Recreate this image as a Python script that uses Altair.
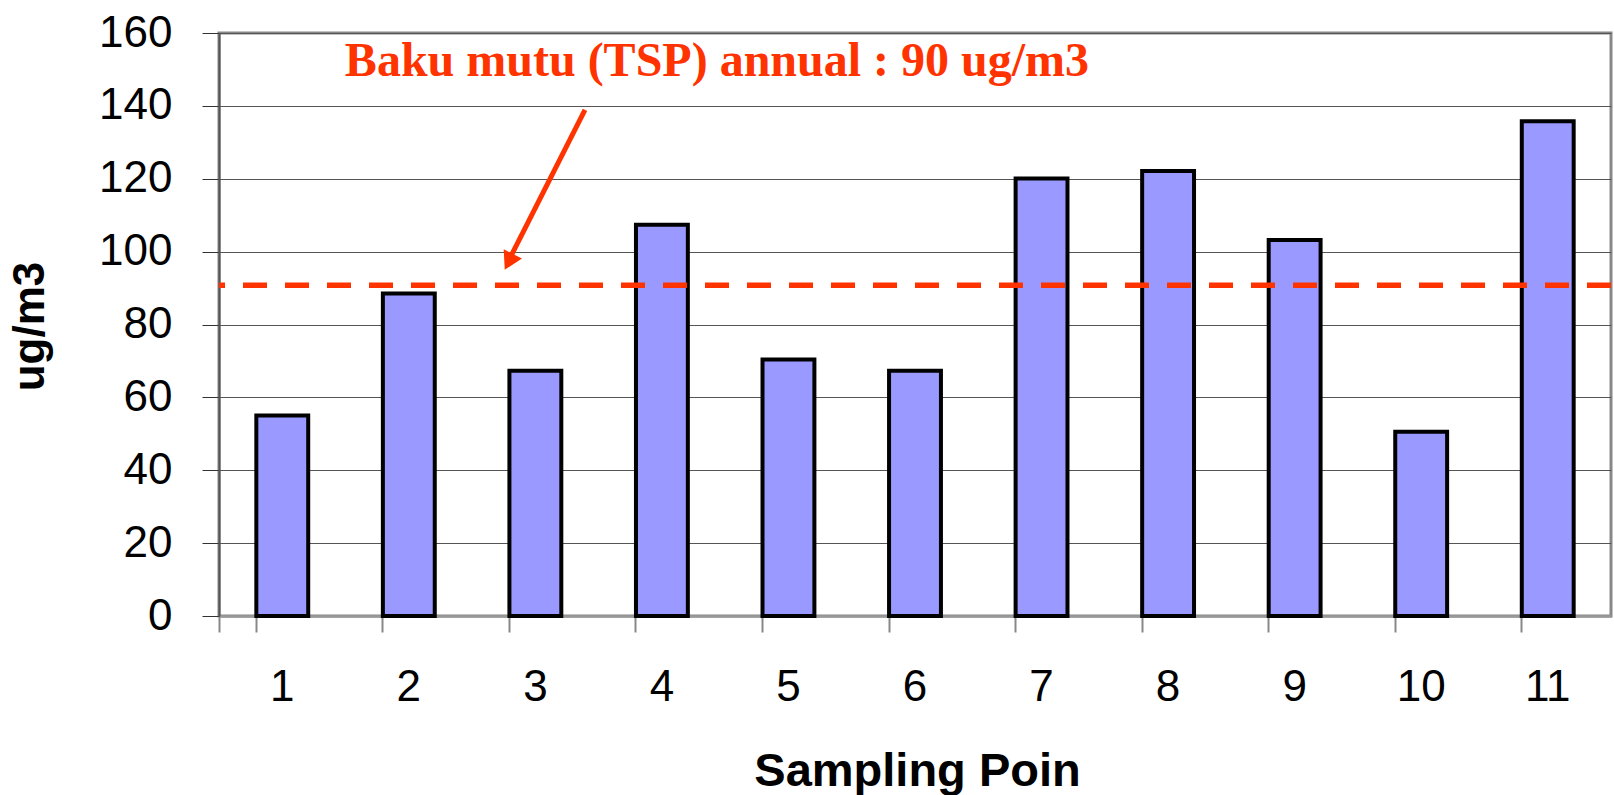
import altair as alt
import pandas as pd

# ---- data ----
points = ["1", "2", "3", "4", "5", "6", "7", "8", "9", "10", "11"]
tsp = [55.0, 88.5, 67.3, 107.4, 70.4, 67.3, 120.1, 122.1, 103.2, 50.6, 135.8]
y_ticks = [0, 20, 40, 60, 80, 100, 120, 140, 160]
standard_value = [90.8]

# annotation (in data units: x = sampling-point position 0..11, y = ug/m3)
label_text = ["Baku mutu (TSP) annual : 90 ug/m3"]
label_x = [3.935]
label_y = [148.2]
arrow_x = [2.892, 2.296]
arrow_y = [138.9, 98.0]
head_x = [2.29]
head_y = [97.2]

RED = "#FF3300"
FONT = "Liberation Sans"

bars_df = pd.DataFrame({"point": points, "value": tsp})
std_df = pd.DataFrame({"v": standard_value})
label_df = pd.DataFrame({"t": label_text, "x": label_x, "y": label_y})
arrow_df = pd.DataFrame({"x": arrow_x, "y": arrow_y})
head_df = pd.DataFrame({"x": head_x, "y": head_y})

yscale = alt.Scale(domain=[0, 160], nice=False, zero=True)
ann_x = alt.Scale(domain=[0, 11], nice=False, zero=False)

bars = alt.Chart(bars_df).mark_bar(
    fill="#9999FF", stroke="black", strokeWidth=4
).encode(
    x=alt.X(
        "point:N", sort=points,
        scale=alt.Scale(paddingInner=0.59, paddingOuter=0.295),
        axis=alt.Axis(
            title="Sampling Poin", labelAngle=0, labelFont=FONT, labelFontSize=44,
            labelColor="black", labelPadding=33, tickSize=16, tickColor="#888888",
            tickWidth=2, domainColor="#999999", domainWidth=2.5, grid=False,
            bandPosition=0, tickExtra=True,
            titleFont=FONT, titleFontSize=47, titleFontWeight="bold", titleColor="black",
            titleBaseline="alphabetic", titleY=169, titleX=698, titleAlign="center",
        ),
    ),
    y=alt.Y(
        "value:Q", scale=yscale,
        axis=alt.Axis(
            values=y_ticks, title="ug/m3", labelFont=FONT, labelFontSize=44,
            labelColor="black", labelPadding=30, tickSize=17, tickColor="#333333",
            tickWidth=1, domainColor="#555555", domainWidth=2, grid=True,
            gridColor="#555555", gridWidth=1,
            titleFont=FONT, titleFontSize=44, titleFontWeight="bold", titleColor="black",
            titleAngle=270, titleBaseline="alphabetic", titleX=-176, titleY=293,
            titleAlign="center",
        ),
    ),
)

rule = alt.Chart(std_df).mark_rule(
    color=RED, strokeWidth=5.5, strokeDash=[24, 18]
).encode(y=alt.Y("v:Q", scale=yscale))

label = alt.Chart(label_df).mark_text(
    font="Liberation Serif", fontWeight="bold", fontSize=48, color=RED,
    align="center", baseline="alphabetic"
).encode(
    x=alt.X("x:Q", scale=ann_x, axis=None),
    y=alt.Y("y:Q", scale=yscale),
    text="t:N",
)

arrow = alt.Chart(arrow_df).mark_line(color=RED, strokeWidth=5).encode(
    x=alt.X("x:Q", scale=ann_x, axis=None),
    y=alt.Y("y:Q", scale=yscale),
)

head = alt.Chart(head_df).mark_point(
    shape="triangle-up", size=420, filled=True, color=RED, opacity=1, angle=207
).encode(
    x=alt.X("x:Q", scale=ann_x, axis=None),
    y=alt.Y("y:Q", scale=yscale),
)

chart = alt.layer(bars, rule, label, arrow, head).resolve_scale(
    x="independent"
).resolve_axis(x="independent").properties(
    width=1392, height=583,
    autosize=alt.AutoSizeParams(type="none"),
    padding={"left": 219, "top": 33, "right": 3, "bottom": 179},
    background="white",
).configure_view(stroke="#888888", strokeWidth=3)

chart.save("out.html", embed_options={"renderer": "svg", "actions": False})
